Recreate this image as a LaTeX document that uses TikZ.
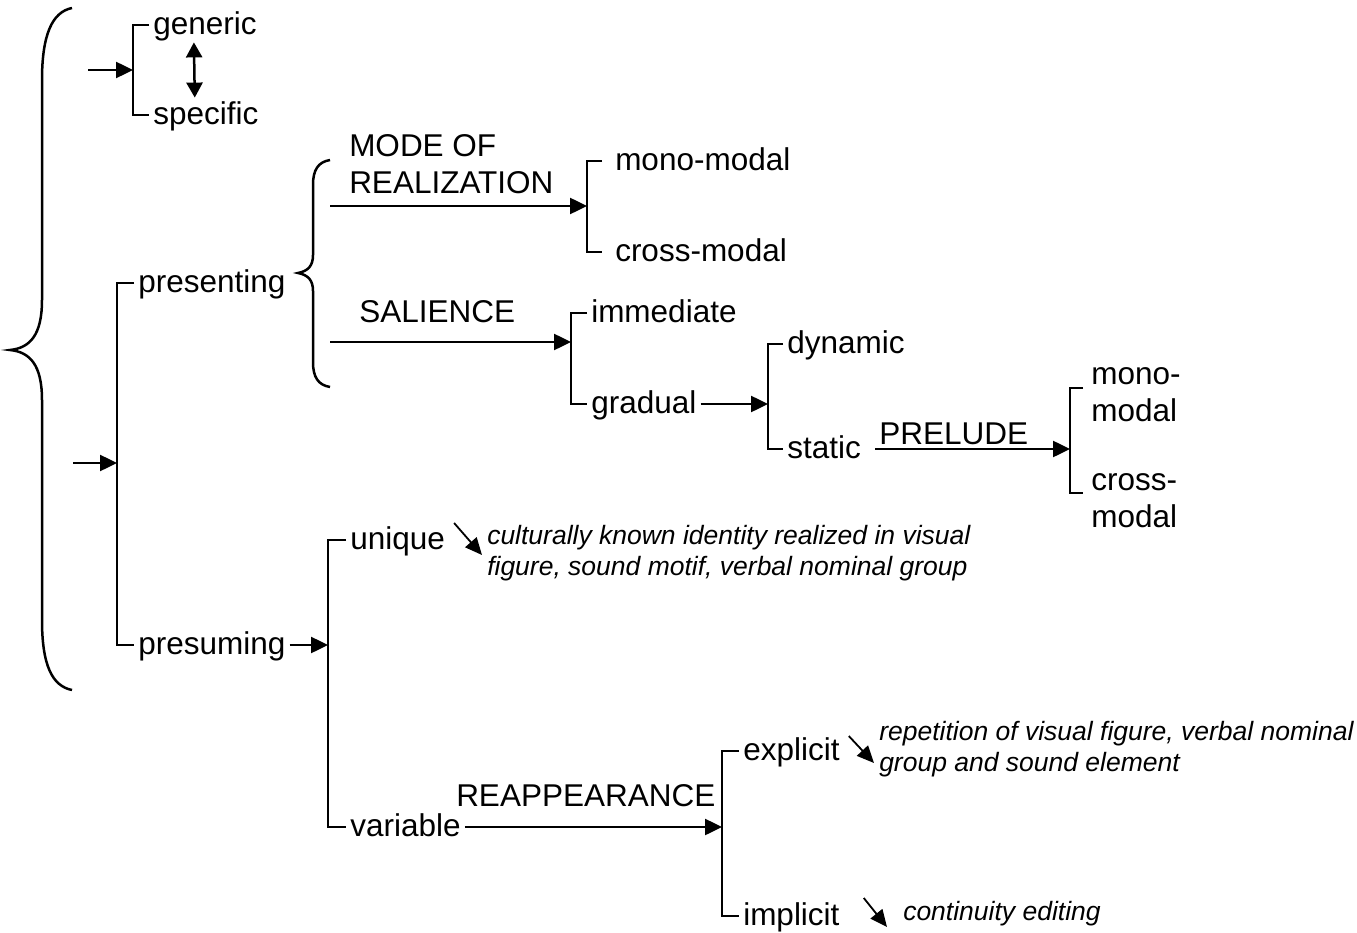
\documentclass[tikz,border=0pt]{standalone}
\usepackage{fontspec}
\setmainfont{Liberation Sans}
\usetikzlibrary{arrows.meta}

\begin{document}
\begin{tikzpicture}[x=1pt, y=-1pt, line width=2.5pt, >={Triangle[length=17pt, width=16pt]},
	every node/.style={font=\fontsize{31.5}{37}\selectfont},
	lab/.style={anchor=west, inner xsep=3pt, inner ysep=0pt, text height=26pt, text depth=6.3pt},
	labtwo/.style={anchor=west, inner xsep=3pt, inner ysep=0pt, align=left},
	tag/.style={anchor=base west, inner sep=0pt},
	note/.style={anchor=west, inner sep=0pt, align=left, font=\fontsize{26.5}{31}\selectfont\itshape},
	diag/.style={->, line width=1.8pt, >={Triangle[length=17pt, width=15pt]}}]
	\useasboundingbox (0,0) rectangle (1357,933);
	% big left brace and the brace of presenting
	\draw (72,8) .. controls (52,12) and (42,35) .. (42,80) -- (42,300) .. controls (42,335) and (30,348) .. (10,350) .. controls (30,352) and (42,365) .. (42,400) -- (42,620) .. controls (42,665) and (52,686) .. (72,690);
	\draw (330,160) .. controls (318,162) and (313,170) .. (313,185) -- (313,255) .. controls (313,266) and (308,271) .. (298,273) .. controls (308,275) and (313,280) .. (313,291) -- (313,362) .. controls (313,377) and (318,385) .. (330,387);
	% terms
	\node[lab] (generic) at (149,25) {generic};
	\node[lab] (specific) at (149,115) {specific};
	\node[lab] (presenting) at (134,283) {presenting};
	\node[lab] (presuming) at (134,645) {presuming};
	\node[lab] (mono) at (611,161) {mono-modal};
	\node[lab] (cross) at (611,252) {cross-modal};
	\node[lab] (immediate) at (587,313) {immediate};
	\node[lab] (gradual) at (587,404) {gradual};
	\node[lab] (dynamic) at (783,344) {dynamic};
	\node[lab] (static) at (783,449) {static};
	\node[labtwo] (monotwo) at (1087,395) {mono-\\modal};
	\node[labtwo] (crosstwo) at (1087,501) {cross-\\modal};
	\node[lab] (unique) at (346,540) {unique};
	\node[lab] (variable) at (346,827) {variable};
	\node[lab] (explicit) at (739,751) {explicit};
	\node[lab] (implicit) at (739,916) {implicit};
	% system names
	\node[tag, anchor=south west, align=left] (mode) at (348,195) {MODE OF\\REALIZATION};
	\node[tag] (salience) at (358,323) {SALIENCE};
	\node[tag] (prelude) at (878,444) {PRELUDE};
	\node[tag] (reapp) at (455,806) {REAPPEARANCE};
	% realizations
	\node[note] (uninote) at (486,553) {culturally known identity realized in visual\\figure, sound motif, verbal nominal group};
	\node[note] (expnote) at (878,749) {repetition of visual figure, verbal nominal\\group and sound element};
	\node[note] (impnote) at (902,914) {continuity editing};
	% entry points
	\coordinate (inone) at (88,70);	\coordinate (gbr) at (133,70);
	\coordinate (intwo) at (73,463);	\coordinate (mbr) at (117,463);
	\coordinate (modest) at (330,206);	\coordinate (modbr) at (587,206);
	\coordinate (salst) at (330,342);	\coordinate (salbr) at (571,342);
	\coordinate (gradbr) at (768,404);
	\coordinate (prelbr) at (1070,449);
	\coordinate (presbr) at (328,645);
	\coordinate (reapbr) at (722,827);
	% brackets
	\foreach \a/\m/\b in {generic/gbr/specific, presenting/mbr/presuming, immediate/salbr/gradual, dynamic/gradbr/static, unique/presbr/variable, explicit/reapbr/implicit} {\draw (\a.west) -| (\m) |- (\b.west);}
	\draw ([xshift=-9pt]mono.west) -| (modbr) |- ([xshift=-9pt]cross.west);
	\draw ([shift={(-4pt,7pt)}]monotwo.west) -| (prelbr) |- ([shift={(-4pt,8pt)}]crosstwo.west);
	% arrows
	\foreach \a/\b in {inone/gbr, intwo/mbr, modest/modbr, salst/salbr, gradual/gradbr, presuming/presbr, variable/reapbr} {\draw[->] (\a) -- (\a -| \b);}
	\draw[->, shorten <=10pt] (static) -- (static -| prelbr);
	\draw[<->, >={Triangle[length=15pt, width=16pt]}] ([xshift=-11pt]generic.south) -- ([xshift=-11pt]specific.north);
	\draw[diag] ([shift={(5,-17)}]unique.east) -- ([shift={(-4,2)}]uninote.west);
	\draw[diag] ([shift={(5,-15)}]explicit.east) -- ([shift={(-4,14)}]expnote.west);
	\draw[diag] ([shift={(20,-18)}]implicit.east) -- ([shift={(-15,13)}]impnote.west);
\end{tikzpicture}
\end{document}
